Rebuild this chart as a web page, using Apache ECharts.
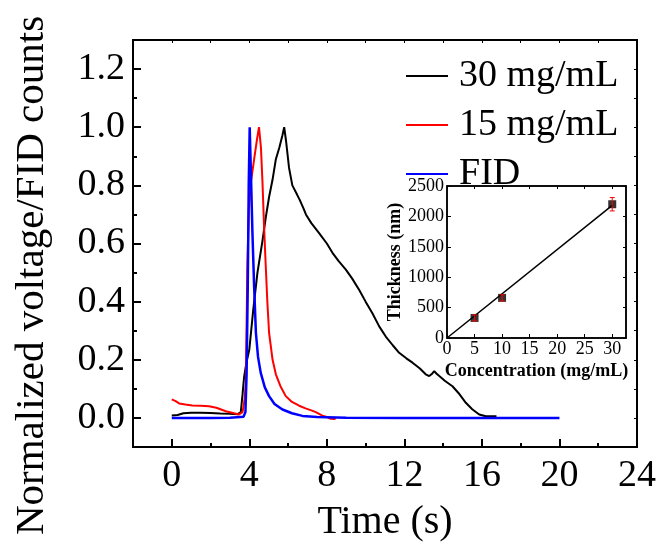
<!DOCTYPE html>
<html><head><meta charset="utf-8">
<script src="https://cdn.jsdelivr.net/npm/echarts@6/dist/echarts.min.js"></script>
<style>html,body{margin:0;padding:0;background:#fff}#c{width:662px;height:547px}</style>
</head><body><div id="c"></div>
<script>
// ---- Main chart data ----
const t30 = [0,0.3,0.6,1.0,1.5,2.0,2.5,3.0,3.4,3.56,3.65,3.73,3.85,4.0,4.2,4.42,4.68,4.85,5.02,5.2,5.37,5.55,5.7,5.8,5.9,6.05,6.22,6.45,6.6,6.8,6.92,7.2,7.6,8.0,8.29,8.6,8.98,9.3,9.67,10.0,10.35,10.7,11.04,11.4,11.73,12.1,12.42,12.8,13.1,13.28,13.4,13.54,13.65,13.8,14.1,14.48,14.8,15.17,15.5,15.86,16.2,16.75];
const v30 = [0.008,0.01,0.016,0.018,0.018,0.017,0.015,0.014,0.013,0.02,0.08,0.14,0.19,0.235,0.37,0.5,0.61,0.69,0.76,0.82,0.89,0.93,0.97,1.0,0.95,0.86,0.80,0.77,0.75,0.72,0.70,0.67,0.636,0.60,0.568,0.54,0.51,0.48,0.44,0.40,0.36,0.315,0.28,0.25,0.224,0.205,0.19,0.17,0.15,0.144,0.15,0.161,0.153,0.144,0.127,0.109,0.085,0.052,0.03,0.012,0.006,0.006];
const t15 = [0,0.2,0.38,0.7,1.06,1.5,1.92,2.3,2.79,3.1,3.47,3.65,3.75,3.82,3.9,3.98,4.08,4.25,4.4,4.5,4.6,4.68,4.76,4.85,4.93,5.02,5.2,5.37,5.6,5.88,6.2,6.57,6.9,7.2,7.43,7.77,8.0,8.2,8.45];
const v15 = [0.064,0.058,0.05,0.046,0.043,0.042,0.04,0.035,0.023,0.018,0.012,0.02,0.06,0.12,0.52,0.72,0.81,0.89,0.96,1.0,0.93,0.81,0.66,0.52,0.40,0.293,0.2,0.15,0.11,0.075,0.055,0.042,0.033,0.026,0.02,0.008,0.003,-0.003,-0.004];
const tFID = [0,1,2,3,3.7,3.8,3.86,3.92,3.97,4.02,4.08,4.16,4.25,4.34,4.45,4.59,4.8,5.02,5.3,5.71,6.2,6.74,7.5,9,12,16,20];
const vFID = [0,0,0,0.001,0.004,0.02,0.15,0.45,0.8,1.0,0.85,0.64,0.45,0.293,0.21,0.155,0.105,0.075,0.048,0.029,0.016,0.007,0.003,0.001,0,0,0];
const seriesNames = ['30 mg/mL','15 mg/mL','FID'];
const xMajorTicks = [0,4,8,12,16,20,24];
const xMinorTicks = [2,6,10,14,18,22];
const yMajorTicks = [0,0.2,0.4,0.6,0.8,1.0,1.2];
const yMinorTicks = [0.1,0.3,0.5,0.7,0.9,1.1];
// ---- Inset data ----
const concX = [5,10,30];
const thickY = [330,660,2200];
const thickErr = [50,50,110];
const fitX = [0,30];
const fitY = [0,2180];
const insetXTicks = [0,5,10,15,20,25,30];
const insetYTicks = [0,500,1000,1500,2000,2500];

const FF = '"Liberation Serif","Times New Roman",serif';
const zip = (a,b)=>a.map((x,i)=>[x,b[i]]);

const chart = echarts.init(document.getElementById('c'), null, {renderer:'canvas'});
const blackLine = {onZero:false,lineStyle:{color:'#000',width:2}};
const insetLine = {onZero:false,lineStyle:{color:'#000',width:1.5}};
const noLine = {show:false,onZero:false};
chart.setOption({
  animation:false,
  backgroundColor:'#fff',
  legend:{
    data:seriesNames, orient:'vertical', left:401, top:52,
    icon:'rect', itemWidth:42, itemHeight:2, itemGap:11,
    textStyle:{fontFamily:FF,fontSize:38,color:'#000',padding:[0,0,0,6]}
  },
  grid:[
    {left:133,right:25,top:40,bottom:99,show:true,borderColor:'#000',borderWidth:2,containLabel:false},
    {left:447,right:36,top:186,bottom:209,show:true,borderColor:'#000',borderWidth:1.5,containLabel:false}
  ],
  xAxis:[
    {gridIndex:0,type:'value',min:-2,max:24,position:'bottom',
     axisLine:blackLine,splitLine:{show:false},
     axisTick:{inside:true,length:8,lineStyle:{color:'#000',width:2},customValues:xMajorTicks},
     axisLabel:{customValues:xMajorTicks,fontFamily:FF,fontSize:38,color:'#000',margin:10},
     name:'Time (s)',nameLocation:'middle',nameGap:55,
     nameTextStyle:{fontFamily:FF,fontSize:40,color:'#000'}},
    {gridIndex:0,type:'value',min:-2,max:24,position:'bottom',
     axisLine:noLine,splitLine:{show:false},axisLabel:{show:false},
     axisTick:{inside:true,length:4,lineStyle:{color:'#000',width:2},customValues:xMinorTicks}},
    {gridIndex:0,type:'value',min:-2,max:24,position:'top',
     axisLine:blackLine,splitLine:{show:false},axisLabel:{show:false},
     axisTick:{inside:true,length:3,lineStyle:{color:'#000',width:1},customValues:xMajorTicks.concat(xMinorTicks)}},
    {gridIndex:1,type:'value',min:0,max:32.5,position:'bottom',
     axisLine:insetLine,splitLine:{show:false},
     axisTick:{inside:true,length:4,lineStyle:{color:'#000',width:1},customValues:insetXTicks},
     axisLabel:{customValues:insetXTicks,fontFamily:FF,fontSize:18,color:'#000',margin:2},
     name:'Concentration (mg/mL)',nameLocation:'middle',nameGap:24,
     nameTextStyle:{fontFamily:FF,fontSize:18,fontWeight:'bold',color:'#000'}},
    {gridIndex:1,type:'value',min:0,max:32.5,position:'top',
     axisLine:insetLine,splitLine:{show:false},axisLabel:{show:false},
     axisTick:{inside:true,length:3,lineStyle:{color:'#000',width:1},customValues:insetXTicks}}
  ],
  yAxis:[
    {gridIndex:0,type:'value',min:-0.1,max:1.3,position:'left',
     axisLine:blackLine,splitLine:{show:false},
     axisTick:{inside:true,length:8,lineStyle:{color:'#000',width:2},customValues:yMajorTicks},
     axisLabel:{customValues:yMajorTicks,formatter:v=>v.toFixed(1),fontFamily:FF,fontSize:38,color:'#000',margin:8},
     name:'Normalized voltage/FID counts',nameLocation:'middle',nameGap:80,
     nameTextStyle:{fontFamily:FF,fontSize:41,color:'#000',padding:[0,64,0,0]}},
    {gridIndex:0,type:'value',min:-0.1,max:1.3,position:'left',
     axisLine:noLine,splitLine:{show:false},axisLabel:{show:false},
     axisTick:{inside:true,length:4,lineStyle:{color:'#000',width:2},customValues:yMinorTicks}},
    {gridIndex:0,type:'value',min:-0.1,max:1.3,position:'right',
     axisLine:blackLine,splitLine:{show:false},axisLabel:{show:false},
     axisTick:{inside:true,length:3,lineStyle:{color:'#000',width:1},customValues:yMajorTicks.concat(yMinorTicks)}},
    {gridIndex:1,type:'value',min:0,max:2500,position:'left',
     axisLine:insetLine,splitLine:{show:false},
     axisTick:{inside:true,length:4,lineStyle:{color:'#000',width:1},customValues:insetYTicks},
     axisLabel:{customValues:insetYTicks,formatter:v=>String(v),fontFamily:FF,fontSize:18,color:'#000',margin:3},
     name:'Thickness (nm)',nameLocation:'middle',nameGap:40,
     nameTextStyle:{fontFamily:FF,fontSize:18,fontWeight:'bold',color:'#000'}},
    {gridIndex:1,type:'value',min:0,max:2500,position:'right',
     axisLine:insetLine,splitLine:{show:false},axisLabel:{show:false},
     axisTick:{inside:true,length:3,lineStyle:{color:'#000',width:1},customValues:insetYTicks}}
  ],
  series:[
    {name:seriesNames[0],type:'line',xAxisIndex:0,yAxisIndex:0,data:zip(t30,v30),showSymbol:false,symbol:'none',
     itemStyle:{color:'#000'},lineStyle:{color:'#000',width:2},z:3},
    {name:seriesNames[1],type:'line',xAxisIndex:0,yAxisIndex:0,data:zip(t15,v15),showSymbol:false,symbol:'none',
     itemStyle:{color:'#ff0000'},lineStyle:{color:'#ff0000',width:2},z:4},
    {name:seriesNames[2],type:'line',xAxisIndex:0,yAxisIndex:0,data:zip(tFID,vFID),showSymbol:false,symbol:'none',
     itemStyle:{color:'#0000ff'},lineStyle:{color:'#0000ff',width:2.5},z:5},
    {type:'line',xAxisIndex:3,yAxisIndex:3,data:zip(fitX,fitY),symbol:'none',
     lineStyle:{color:'#000',width:1.5},z:6},
    {type:'scatter',xAxisIndex:3,yAxisIndex:3,data:zip(concX,thickY),symbol:'rect',symbolSize:8,
     itemStyle:{color:'#000'},z:7},
    {type:'custom',xAxisIndex:3,yAxisIndex:3,z:8,
     data:concX.map((x,i)=>[x,thickY[i]-thickErr[i],thickY[i]+thickErr[i]]),
     encode:{x:0,y:[1,2]},
     renderItem:function(params,api){
       const lo=api.coord([api.value(0),api.value(1)]);
       const hi=api.coord([api.value(0),api.value(2)]);
       const st={stroke:'#ff0000',lineWidth:1};
       return {type:'group',children:[
         {type:'line',shape:{x1:lo[0],y1:lo[1],x2:hi[0],y2:hi[1]},style:st},
         {type:'line',shape:{x1:lo[0]-2.5,y1:lo[1],x2:lo[0]+2.5,y2:lo[1]},style:st},
         {type:'line',shape:{x1:hi[0]-2.5,y1:hi[1],x2:hi[0]+2.5,y2:hi[1]},style:st}
       ]};
     }}
  ]
});
</script></body></html>
